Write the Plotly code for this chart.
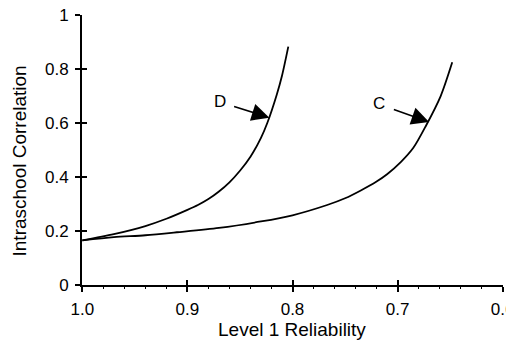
import plotly.graph_objects as go

# Level 1 reliability (x) and intraschool correlation (y)
d_reliability = [1.0, 0.97, 0.94, 0.92, 0.90, 0.89, 0.88, 0.87, 0.86, 0.85, 0.84, 0.83, 0.824,
                 0.815, 0.81, 0.804]
d_correlation = [0.165, 0.188, 0.218, 0.245, 0.278, 0.296, 0.318, 0.346, 0.38, 0.423, 0.475,
                 0.545, 0.60, 0.705, 0.775, 0.883]

c_reliability = [1.0, 0.97, 0.94, 0.91, 0.87, 0.83, 0.80, 0.767, 0.75, 0.735, 0.72, 0.71, 0.697,
                 0.685, 0.673, 0.659, 0.648]
c_correlation = [0.165, 0.177, 0.184, 0.195, 0.211, 0.235, 0.258, 0.296, 0.321, 0.35, 0.383, 0.41,
                 0.455, 0.508, 0.59, 0.70, 0.825]

x_ticks = [1.0, 0.9, 0.8, 0.7, 0.6]
x_tick_labels = ["1.0", "0.9", "0.8", "0.7", "0.6"]
y_ticks = [0, 0.2, 0.4, 0.6, 0.8, 1.0]
y_tick_labels = ["0", "0.2", "0.4", "0.6", "0.8", "1"]

FONT = "Liberation Sans, Arial, sans-serif"
X_RANGE = [1.0003, 0.5997]
Y_RANGE = [-0.0005, 1.0005]

fig = go.Figure()
line = dict(color="black", width=1.8, shape="spline", smoothing=0.8)
fig.add_trace(go.Scatter(x=d_reliability, y=d_correlation, mode="lines", line=line,
                         name="D", hoverinfo="skip"))
fig.add_trace(go.Scatter(x=c_reliability, y=c_correlation, mode="lines", line=line,
                         name="C", hoverinfo="skip"))
# empty trace to activate overlay axes (inner half of crossing ticks)
fig.add_trace(go.Scatter(x=[], y=[], xaxis="x2", yaxis="y2", hoverinfo="skip"))

axis_common = dict(showgrid=False, zeroline=False, color="black", automargin=False,
                   ticklabeloverflow="allow")

# page body has an 8px margin: the figure starts at (8, 8) and runs past the window edge
fig.update_layout(
    width=514, height=343,
    margin=dict(l=74, r=19, t=7, b=66),
    paper_bgcolor="white", plot_bgcolor="white",
    showlegend=False,
    font=dict(family=FONT, size=17, color="black"),
    xaxis=dict(range=X_RANGE, tickvals=x_ticks, ticktext=x_tick_labels,
               ticks="outside", ticklen=5, tickwidth=1.5, tickcolor="black",
               showline=True, linecolor="black", linewidth=2,
               ticklabelstandoff=3,
               minor=dict(dtick=0.02, ticks="outside", ticklen=2, tickwidth=1, tickcolor="black"),
               **axis_common),
    yaxis=dict(range=Y_RANGE, tickvals=y_ticks, ticktext=y_tick_labels,
               ticks="outside", ticklen=5, tickwidth=1.5, tickcolor="black",
               showline=True, linecolor="black", linewidth=2,
               ticklabelstandoff=3,
               **axis_common),
    xaxis2=dict(overlaying="x", anchor="y2", range=X_RANGE, tickvals=x_ticks,
                showticklabels=False, ticks="inside", ticklen=5, tickwidth=1.5,
                tickcolor="black", showline=False, **axis_common),
    yaxis2=dict(overlaying="y", anchor="x2", range=Y_RANGE, tickvals=y_ticks,
                showticklabels=False, ticks="inside", ticklen=5, tickwidth=1.5,
                tickcolor="black", showline=False, **axis_common),
)

# axis titles placed as annotations
fig.add_annotation(text="Intraschool Correlation", xref="paper", yref="paper",
                   x=-0.148, y=0.46, textangle=-90, showarrow=False,
                   font=dict(size=19, family=FONT), xanchor="center", yanchor="middle")
fig.add_annotation(text="Level 1 Reliability", xref="paper", yref="paper",
                   x=0.499, y=-0.163, showarrow=False,
                   font=dict(size=19, family=FONT), xanchor="center", yanchor="middle")

# curve labels with arrows
for label, tip, tail in [("D", (0.822, 0.62), (0.857, 0.663)),
                         ("C", (0.670, 0.604), (0.705, 0.652))]:
    fig.add_annotation(x=tip[0], y=tip[1], ax=tail[0], ay=tail[1],
                       xref="x", yref="y", axref="x", ayref="y",
                       text="", showarrow=True, arrowhead=2, arrowsize=2.2,
                       arrowwidth=1.6, arrowcolor="black")

fig.add_annotation(x=0.869, y=0.678, text="D", showarrow=False, xref="x", yref="y",
                   font=dict(size=17, family=FONT))
fig.add_annotation(x=0.718, y=0.674, text="C", showarrow=False, xref="x", yref="y",
                   font=dict(size=17, family=FONT))

fig.write_html("out.html")
